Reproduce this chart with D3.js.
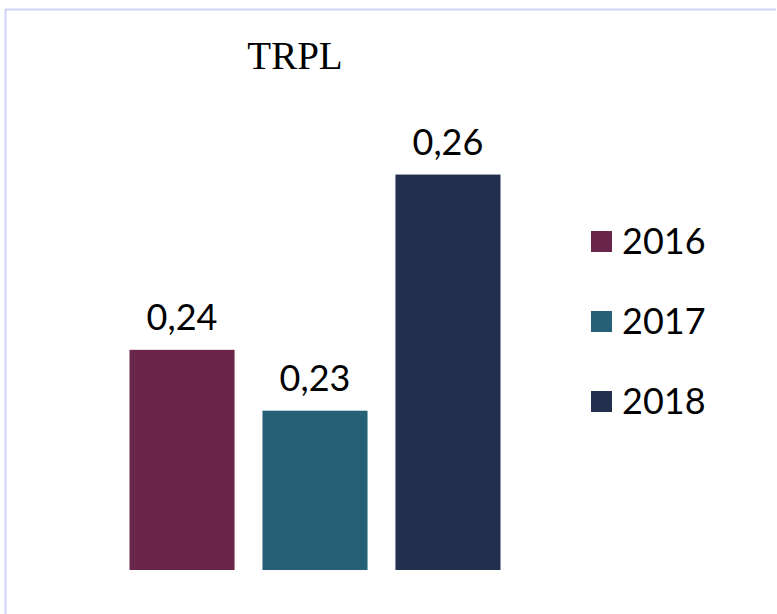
<!DOCTYPE html>
<html>
<head>
<meta charset="utf-8">
<script src="https://cdn.jsdelivr.net/npm/d3@7"></script>
<style>
  body { margin: 0; background: #fff; }
</style>
</head>
<body>
<div id="chart"></div>
<script>
var years = ["2016", "2017", "2018"];
var values = [0.2358, 0.2259, 0.2643];
var colors = ["#6a264a", "#256076", "#22304e"];
var title = "TRPL";

var width = 777, height = 614;

var svg = d3.select("#chart")
    .append("svg")
    .attr("width", width)
    .attr("height", height);

// light frame, top and left edges only
svg.append("line")
    .attr("x1", 5).attr("y1", 9.5).attr("x2", 776).attr("y2", 9.5)
    .attr("stroke", "#d2d2f7").attr("stroke-width", 2);
svg.append("line")
    .attr("x1", 5.5).attr("y1", 9).attr("x2", 5.5).attr("y2", height)
    .attr("stroke", "#d2d2f7").attr("stroke-width", 2);

svg.append("text")
    .attr("x", 295)
    .attr("y", 69)
    .attr("text-anchor", "middle")
    .style("font-family", "'Liberation Serif', 'Times New Roman', serif")
    .style("font-size", "39px")
    .attr("fill", "#000")
    .text(title);

var x = d3.scaleBand()
    .domain(years)
    .range([129.5, 500.5])
    .paddingInner(0.21)
    .paddingOuter(0);

var y = d3.scaleLinear()
    .domain([0.2, 0.27])
    .range([570, 570 - 6150 * 0.07]);

var fmt = function (v) { return d3.format(".2f")(v).replace(".", ","); };

var data = years.map(function (d, i) { return { year: d, value: values[i], color: colors[i] }; });

svg.selectAll("rect.bar")
    .data(data)
    .join("rect")
    .attr("class", "bar")
    .attr("x", function (d) { return x(d.year); })
    .attr("y", function (d) { return y(d.value); })
    .attr("width", x.bandwidth())
    .attr("height", function (d) { return y.range()[0] - y(d.value); })
    .attr("fill", function (d) { return d.color; });

svg.selectAll("text.lbl")
    .data(data)
    .join("text")
    .attr("class", "lbl")
    .attr("x", function (d) { return x(d.year) + x.bandwidth() / 2; })
    .attr("y", function (d) { return y(d.value) - 20; })
    .attr("text-anchor", "middle")
    .style("font-family", "Lato, 'Open Sans', sans-serif")
    .style("font-size", "36px")
    .attr("fill", "#000")
    .text(function (d) { return fmt(d.value); });

// legend
var legend = svg.selectAll("g.leg")
    .data(data)
    .join("g")
    .attr("class", "leg")
    .attr("transform", function (d, i) { return "translate(591," + (231 + i * 80) + ")"; });

legend.append("rect")
    .attr("width", 21)
    .attr("height", 21)
    .attr("fill", function (d) { return d.color; });

legend.append("text")
    .attr("x", 31)
    .attr("y", 23)
    .style("font-family", "Lato, 'Open Sans', sans-serif")
    .style("font-size", "36px")
    .attr("fill", "#000")
    .text(function (d) { return d.year; });
</script>
</body>
</html>
